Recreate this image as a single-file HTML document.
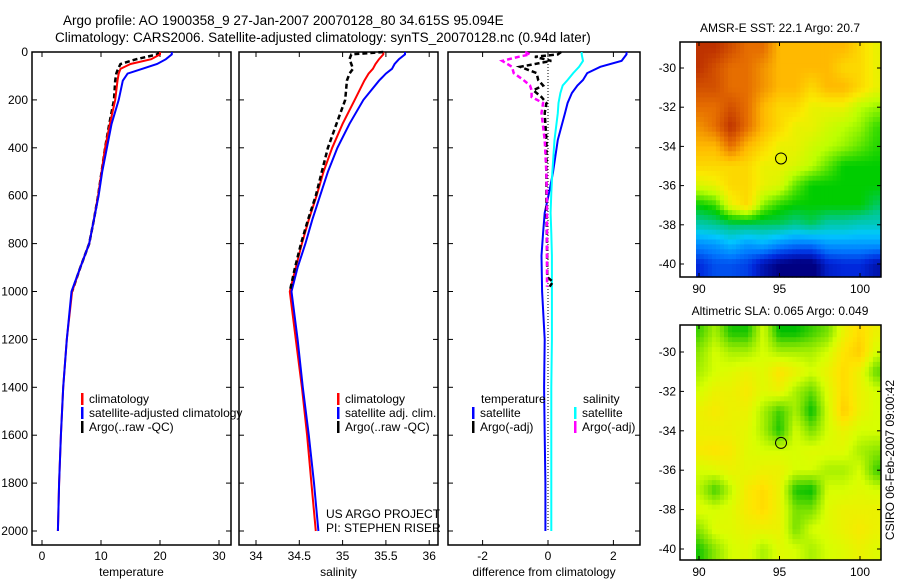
<!DOCTYPE html>
<html><head><meta charset="utf-8"><style>
body{margin:0;background:#fff;}
svg{display:block;font-family:"Liberation Sans",sans-serif;}
text{font-size:12px;fill:#000;}
</style></head><body>
<svg id="fig" width="900" height="580" viewBox="0 0 900 580" xmlns="http://www.w3.org/2000/svg">
<rect width="900" height="580" fill="#fff"/>
<text x="63" y="25" style="font-size:13.5px">Argo profile: AO 1900358_9 27-Jan-2007 20070128_80 34.615S 95.094E</text>
<text x="55" y="42" style="font-size:13.5px">Climatology: CARS2006. Satellite-adjusted climatology: synTS_20070128.nc (0.94d later)</text>
<g id="g"></g>
</svg>
<script>
// ---- profile data ----
const depthClim=[0,10,30,50,70,90,120,200,300,400,500,600,700,800,900,1000,1200,1400,1600,1800,2000];
const depthArgo=[0,10,30,50,70,90,120,200,300,400,500,600,700,800,900,1000];
const tempClim=[20,20,18.5,15,13.3,13,12.8,12.4,11.5,10.7,10.1,9.5,8.8,8,6.5,5.1,4.2,3.6,3.2,2.9,2.7];
const tempSat=[22,22,21,19.5,17,14.5,13.7,13,11.8,11,10.2,9.6,8.8,8,6.5,5,4.2,3.6,3.2,2.9,2.7];
const tempArgo=[20,19.5,16,13.3,12.9,12.6,12.4,12.2,11.4,10.7,10.1,9.5,8.8,8,6.5,5.1];
const salClim=[35.47,35.47,35.42,35.38,35.35,35.3,35.25,35.14,35.0,34.88,34.78,34.7,34.61,34.53,34.46,34.39,34.46,34.53,34.59,34.64,34.69];
const salSat=[35.72,35.72,35.65,35.6,35.57,35.5,35.42,35.24,35.08,34.94,34.83,34.74,34.65,34.57,34.48,34.41,34.48,34.54,34.61,34.67,34.72];
const salArgo=[35.47,35.1,35.08,35.1,35.12,35.08,35.05,35.03,34.93,34.83,34.76,34.69,34.6,34.52,34.45,34.39];
const depthDiff=[0,10,37,62,88,117,140,171,213,255,367,505,589,672,755,850,1000,1200,1400,1600,1800,2000];
const dTempSat=[2.4,2.4,2.25,1.6,1.2,1.07,0.9,0.73,0.6,0.52,0.3,0.15,0.03,-0.1,-0.15,-0.2,-0.18,-0.1,-0.12,-0.1,-0.08,-0.08];
const dSalSat=[1.03,1.03,1.07,0.95,0.77,0.6,0.45,0.38,0.32,0.3,0.2,0.13,0.1,0.08,0.1,0.12,0.12,0.12,0.1,0.1,0.1,0.1];
const depthDiffArgo=[0,10,20,37,62,88,117,140,160,188,213,255,367,505,650,800,940,960,980];
const dTempArgo=[0.4,0.3,-0.4,0.1,-0.85,-0.35,-0.3,-0.15,-0.45,-0.2,-0.05,-0.1,-0.05,-0.05,-0.05,-0.03,-0.02,0.15,0.05];
const dSalArgo=[-0.7,-0.55,-0.9,-1.4,-1.1,-1.05,-0.75,-0.55,-0.5,-0.5,-0.15,-0.2,-0.1,-0.05,-0.03,-0.03,-0.03,-0.03,-0.03];
const depthTicks=[0,200,400,600,800,1000,1200,1400,1600,1800,2000];
const tempTicks=[0,10,20,30];
const salTicks=[34,34.5,35,35.5,36];
const diffTicks=[-2,0,2];
// ---- map data (rows lat -29..-40, cols lon 90..101) ----
const mapLons=[90,91,92,93,94,95,96,97,98,99,100,101];
const mapLats=[-29,-30,-31,-32,-33,-34,-35,-36,-37,-38,-39,-40];
const sstGrid=[
[23.5,23.5,23,22.5,22.5,21.5,21.5,21.5,21.5,21.5,21,20.5],
[23.5,23,22.5,22.5,22,21.5,21.5,21.5,21.5,21,21,20.5],
[23,23,22.5,22.5,22,21.5,21.5,21,21.5,21.5,21,20.5],
[22.5,22.5,23,22.5,21.5,21,21,20.5,20.5,20.5,20,19.8],
[22,22.5,23.5,22.5,21.5,21,20.5,20.5,20.2,20,19.8,19.3],
[21.5,21.5,22.5,21.5,21,20.5,20.5,20.2,20,19.8,19.5,19.2],
[21,21,21,21,20.5,20.5,20.3,20,19.5,19,19,19],
[20.3,20.5,21,21,20.5,20.3,19.5,19,19,19,19,19],
[19,19.3,20.5,21,19.7,19.2,19,19,19,19,19,18.5],
[18,18.2,18.5,18.5,18.5,18.5,18.2,18.5,18,18,17.8,17.8],
[16.3,16.5,17,16.5,16.8,16.3,16,16,16.5,16.5,16.5,16.5],
[15,15.5,15.5,15.3,14.5,14,13.8,13.8,14.8,15,15,14.5]];
const slaGrid=[
[-0.15,-0.05,-0.18,-0.18,0,-0.2,-0.2,-0.15,-0.1,0.05,0.12,0.05],
[-0.08,0,-0.05,-0.05,0,-0.05,-0.05,-0.05,0,0.1,0.15,0],
[-0.05,0,0.02,0.05,0.02,0.1,0.05,0,0.05,0.12,0.05,-0.12],
[0,0.05,0.05,0.08,0.02,0.05,-0.05,-0.12,0.02,0.12,0.05,0],
[0.05,0.08,0.05,0.05,-0.05,-0.15,-0.05,-0.2,0,0.15,0.05,0],
[0.05,0.05,0.05,0.03,-0.05,-0.18,0,-0.1,0,0.05,0,0],
[0.08,0.1,0.08,0.02,0,0,0,0.02,0.02,0.02,-0.05,-0.08],
[0,0.02,0.05,0.03,0.05,0.05,0,0,-0.05,-0.05,0,-0.15],
[-0.03,-0.15,-0.02,0.08,0.12,0.05,-0.18,-0.2,0,0,0.02,0],
[0.02,0,0.02,0.08,0.12,0.05,-0.1,-0.1,0.02,0.05,0.05,0.05],
[-0.08,0.02,0.02,0.05,0.05,0.05,-0.1,0,0.02,0.05,0.08,0.05],
[-0.18,-0.08,0,0.02,-0.05,0.02,0,-0.05,0,0.02,0.05,0.02]];
const floatLon=95.094, floatLat=-34.615;
const latTicks=[-30,-32,-34,-36,-38,-40];
const lonTicks=[90,95,100];

const NS="http://www.w3.org/2000/svg";
const G=document.getElementById('g');
function mk(t,a,p){const e=document.createElementNS(NS,t);for(const k in a)e.setAttribute(k,a[k]);(p||G).appendChild(e);return e;}
const TOP=52,BOT=545;
const yD=d=>TOP+d*0.2395;

function panel(name,x0,x1,xs,ticks,xlabel,showY){
  const g=mk('g',{});
  
  
  mk('rect',{x:x0,y:TOP,width:x1-x0,height:BOT-TOP,fill:'none',stroke:'#000','stroke-width':1.5},g);
  depthTicks.forEach(d=>{
    const y=yD(d);
    mk('line',{x1:x0,y1:y,x2:x0+5,y2:y,stroke:'#000'},g);
    mk('line',{x1:x1-5,y1:y,x2:x1,y2:y,stroke:'#000'},g);
    if(showY){const t=mk('text',{x:x0-4,y:y+4,'text-anchor':'end'},g);t.textContent=d;
      
      }
  });
  ticks.forEach(v=>{
    const x=xs(v);
    mk('line',{x1:x,y1:TOP,x2:x,y2:TOP+5,stroke:'#000'},g);
    mk('line',{x1:x,y1:BOT-5,x2:x,y2:BOT,stroke:'#000'},g);
    const t=mk('text',{x:x,y:560,'text-anchor':'middle'},g);t.textContent=v;
    
    
  });
  const t=mk('text',{x:(x0+x1)/2,y:576,'text-anchor':'middle'},g);t.textContent=xlabel;
  
  
  return g;
}
function line(g,name,xs,vals,depths,color,dash,w){
  const p=vals.map((v,i)=>(i?'L':'M')+xs(v).toFixed(1)+','+yD(depths[i]).toFixed(1)).join('');
  const e=mk('path',{d:p,fill:'none',stroke:color,'stroke-width':w||2,'stroke-dasharray':dash||'none'},g);
  
  
}
function legend(g,x,y,items){
  items.forEach((it,i)=>{
    mk('rect',{x:x,y:y+i*14-10,width:2.5,height:12,fill:it[1]},g);
    const t=mk('text',{x:x+8,y:y+i*14},g);t.textContent=it[0];
    
    
  });
}
// Temperature
const xT=v=>42+v*5.9;
const g1=panel('temperature-panel',32,231,xT,tempTicks,'temperature',true);
line(g1,'temp-argo',xT,tempArgo,depthArgo,'#000','5,3',2.5);
line(g1,'temp-climatology',xT,tempClim,depthClim,'#f00');
line(g1,'temp-satellite',xT,tempSat,depthClim,'#00f');
legend(g1,81,403,[['climatology','#f00'],['satellite-adjusted climatology','#00f'],['Argo(..raw -QC)','#000']]);
// Salinity
const xS=v=>256+(v-34)*86.6;
const g2=panel('salinity-panel',239,438,xS,salTicks,'salinity',false);
line(g2,'sal-climatology',xS,salClim,depthClim,'#f00');
line(g2,'sal-satellite',xS,salSat,depthClim,'#00f');
line(g2,'sal-argo',xS,salArgo,depthArgo,'#000','5,3',2.5);
legend(g2,337,403,[['climatology','#f00'],['satellite adj. clim.','#00f'],['Argo(..raw -QC)','#000']]);
let t=mk('text',{x:326,y:518},g2);t.textContent='US ARGO PROJECT';


t=mk('text',{x:326,y:532},g2);t.textContent='PI: STEPHEN RISER';


// Difference
const xDf=v=>548+v*32.7;
const g3=panel('difference-panel',448,640,xDf,diffTicks,'difference from climatology',false);
mk('line',{x1:xDf(0),y1:TOP,x2:xDf(0),y2:yD(2000),stroke:'#000','stroke-dasharray':'1,2'},g3);
line(g3,'dtemp-satellite',xDf,dTempSat,depthDiff,'#00f');
line(g3,'dsal-satellite',xDf,dSalSat,depthDiff,'#0ff');
line(g3,'dtemp-argo',xDf,dTempArgo,depthDiffArgo,'#000','5,3',2.5);
line(g3,'dsal-argo',xDf,dSalArgo,depthDiffArgo,'#f0f','5,3',2.5);
t=mk('text',{x:481,y:403},g3);t.textContent='temperature';


t=mk('text',{x:583,y:403},g3);t.textContent='salinity';


legend(g3,472,417,[['satellite','#00f'],['Argo(-adj)','#000']]);
legend(g3,574,417,[['satellite','#0ff'],['Argo(-adj)','#f0f']]);

// ---- maps ----
const stops=[[0,[0,0,130]],[0.1,[0,40,220]],[0.2,[0,120,255]],[0.32,[0,200,255]],[0.42,[0,200,150]],[0.5,[0,205,0]],[0.6,[190,255,0]],[0.67,[250,235,0]],[0.75,[255,185,0]],[0.85,[230,110,0]],[1,[170,20,0]]];
function cmap(f){f=Math.max(0,Math.min(1,f));for(let i=1;i<stops.length;i++){if(f<=stops[i][0]){const a=stops[i-1],b=stops[i],u=(f-a[0])/(b[0]-a[0]);return 'rgb('+a[1].map((c,k)=>Math.round(c+(b[1][k]-c)*u)).join(',')+')';}}return 'rgb(170,20,0)';}
function slaMap(v){const s=[[-0.2,[0,190,0]],[-0.1,[120,225,0]],[0,[215,255,0]],[0.1,[255,228,0]],[0.2,[255,180,0]]];v=Math.max(-0.2,Math.min(0.2,v));for(let i=1;i<s.length;i++){if(v<=s[i][0]){const a=s[i-1],b=s[i],u=(v-a[0])/(b[0]-a[0]);return 'rgb('+a[1].map((c,k)=>Math.round(c+(b[1][k]-c)*u)).join(',')+')';}}}
function sample(grid,lon,lat){
  let c=lon-mapLons[0], r=mapLats[0]-lat;
  c=Math.max(0,Math.min(grid[0].length-1,c)); r=Math.max(0,Math.min(grid.length-1,r));
  const c0=Math.min(Math.floor(c),grid[0].length-2), r0=Math.min(Math.floor(r),grid.length-2);
  const fc=c-c0, fr=r-r0;
  return grid[r0][c0]*(1-fc)*(1-fr)+grid[r0][c0+1]*fc*(1-fr)+grid[r0+1][c0]*(1-fc)*fr+grid[r0+1][c0+1]*fc*fr;
}
function drawMap(name,top,lat30y,lat40y,grid,colorFn,title){
  const g=mk('g',{});
  
  
  const bx0=680,bx1=881,bot=top+235;
  const xL=lon=>699+(lon-90)*16.1;
  const yL=lat=>lat30y+(-30-lat)*(lat40y-lat30y)/10;
  mk('rect',{x:bx0,y:top,width:bx1-bx0,height:bot-top,fill:'#fff'},g);
  const step=0.25;
  for(let lat=-28.5;lat>-40.75;lat-=step){
    for(let lon=89.8;lon<101.3;lon+=step){
      const x=Math.max(696,xL(lon)),xe=Math.min(bx1,xL(lon+step));
      const y=Math.max(top,yL(lat)),ye=Math.min(bot,yL(lat-step));
      if(xe<=x||ye<=y) continue;
      const v=sample(grid,lon+step/2,lat-step/2);
      const e=mk('rect',{x:x.toFixed(1),y:y.toFixed(1),width:(xe-x+0.6).toFixed(1),height:(ye-y+0.6).toFixed(1),fill:colorFn(v)},g);
      
      
    }
  }
  mk('rect',{x:bx0,y:top,width:bx1-bx0,height:bot-top,fill:'none',stroke:'#000','stroke-width':1.5},g);
  latTicks.forEach(l=>{const y=yL(l);
    mk('line',{x1:bx0,y1:y,x2:bx0+4,y2:y,stroke:'#000'},g);mk('line',{x1:bx1-4,y1:y,x2:bx1,y2:y,stroke:'#000'},g);
    const t=mk('text',{x:bx0-4,y:y+4,'text-anchor':'end'},g);t.textContent=l;
    
    });
  lonTicks.forEach(l=>{const x=xL(l);
    mk('line',{x1:x,y1:top,x2:x,y2:top+4,stroke:'#000'},g);mk('line',{x1:x,y1:bot-4,x2:x,y2:bot,stroke:'#000'},g);
    const t=mk('text',{x:x,y:bot+16,'text-anchor':'middle'},g);t.textContent=l;
    
    });
  const tt=mk('text',{x:780,y:top-10,'text-anchor':'middle'},g);tt.textContent=title;
  
  
  const c=mk('circle',{cx:xL(floatLon),cy:yL(floatLat),r:5.5,fill:'none',stroke:'#000','stroke-width':1},g);
  
  
}
drawMap('sst-map',42,68,264,sstGrid,v=>cmap((v-14)/10),'AMSR-E SST: 22.1 Argo: 20.7');
drawMap('sla-map',325,352,549,slaGrid,slaMap,'Altimetric SLA: 0.065 Argo: 0.049');
t=mk('text',{x:894,y:460,'text-anchor':'middle',transform:'rotate(-90 894 460)'});t.textContent='CSIRO 06-Feb-2007 09:00:42';


</script>
</body></html>
